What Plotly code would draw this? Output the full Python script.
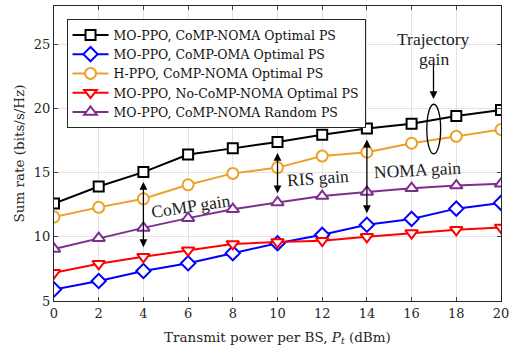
import plotly.graph_objects as go

power_dbm = [0, 2, 4, 6, 8, 10, 12, 14, 16, 18, 20]

mo_ppo_comp_noma_opt = [12.6, 13.93, 15.05, 16.42, 16.9, 17.4, 17.97, 18.45, 18.82, 19.42, 19.9]
mo_ppo_comp_oma_opt = [5.9, 6.56, 7.34, 7.94, 8.73, 9.5, 10.16, 10.94, 11.4, 12.2, 12.65]
h_ppo_comp_noma_opt = [11.54, 12.3, 12.97, 14.06, 14.95, 15.4, 16.3, 16.6, 17.3, 17.84, 18.37]
mo_ppo_nocomp_noma_opt = [7.2, 7.9, 8.45, 8.95, 9.45, 9.6, 9.7, 10.0, 10.3, 10.55, 10.73]
mo_ppo_comp_noma_rand = [9.06, 9.9, 10.7, 11.46, 12.16, 12.68, 13.18, 13.5, 13.8, 14.0, 14.14]

series_names = [
    "MO-PPO, CoMP-NOMA Optimal PS",
    "MO-PPO, CoMP-OMA Optimal PS",
    "H-PPO, CoMP-NOMA Optimal PS",
    "MO-PPO, No-CoMP-NOMA Optimal PS",
    "MO-PPO, CoMP-NOMA Random PS",
]
series_values = [mo_ppo_comp_noma_opt, mo_ppo_comp_oma_opt, h_ppo_comp_noma_opt,
                 mo_ppo_nocomp_noma_opt, mo_ppo_comp_noma_rand]
colors = ["#000000", "#0000FF", "#EDA02A", "#FF0000", "#7E2F8E"]
symbols = ["square", "diamond", "circle", "triangle-down", "triangle-up"]
sizes = [10, 11, 11, 11, 11]

FONT = "DejaVu Serif"
AFONT = "Liberation Serif"

fig = go.Figure()
for name, vals, c, s, sz in zip(series_names, series_values, colors, symbols, sizes):
    fig.add_trace(go.Scatter(
        x=power_dbm, y=vals, name=name, mode="lines+markers",
        line=dict(color=c, width=2),
        marker=dict(symbol=s, size=sz, color="white",
                    line=dict(color=c, width=2)),
    ))

annotations = []
def arrow(x, y0, y1, both=True):
    annotations.append(dict(
        x=x, y=y1, ax=x, ay=y0, xref="x", yref="y", axref="x", ayref="y",
        showarrow=True, arrowhead=2, arrowsize=1.2, arrowwidth=1.3, arrowcolor="black",
        arrowside="end+start" if both else "end", text="",
        startarrowhead=2, startarrowsize=1.2,
    ))

arrow(4, 14.4, 9.2)
arrow(10, 16.66, 13.4)
arrow(14, 17.7, 11.85)
arrow(16.98, 23.75, 20.75, both=False)

def label(x, y, t, ang=0, size=17.5):
    annotations.append(dict(x=x, y=y, xref="x", yref="y", text=t, showarrow=False,
                            textangle=ang, font=dict(family=AFONT, size=size, color="#222")))

label(6.15, 12.4, "CoMP gain", -8.5)
label(11.8, 14.6, "RIS gain", -4)
label(16.25, 15.2, "NOMA gain", -3)
label(17.0, 25.4, "Trajectory", 0)
label(17.0, 23.85, "gain", 0)

fig.add_shape(type="circle", xref="x", yref="y", x0=16.68, x1=17.3, y0=16.47, y1=20.34,
              line=dict(color="black", width=1.3))

fig.update_layout(
    width=513, height=347,
    margin=dict(l=54, r=4, t=6, b=46),
    paper_bgcolor="white", plot_bgcolor="white",
    font=dict(family=FONT, size=13, color="#262626"),
    annotations=annotations,
    showlegend=True,
    legend=dict(x=0.028, y=0.955, xanchor="left", yanchor="top",
                bgcolor="white", bordercolor="#262626", borderwidth=1,
                font=dict(family=FONT, size=12.5, color="#111"),
                tracegroupgap=0, itemwidth=36),
    xaxis=dict(range=[0, 20], tickvals=power_dbm, ticks="inside", ticklen=4,
               ticklabeloverflow="allow",
               showgrid=True, gridcolor="#E3E3E3", gridwidth=1,
               showline=True, linecolor="#262626", linewidth=1, mirror="ticks",
               zeroline=False, tickfont=dict(size=13),
               title=dict(text="Transmit power per BS, <i>P</i><sub><i>t</i></sub> (dBm)",
                          standoff=12, font=dict(size=13.5))),
    yaxis=dict(range=[5, 28], tickvals=[5, 10, 15, 20, 25], ticks="inside", ticklen=4,
               showgrid=True, gridcolor="#E3E3E3", gridwidth=1,
               showline=True, linecolor="#262626", linewidth=1, mirror="ticks",
               zeroline=False, tickfont=dict(size=13),
               title=dict(text="Sum rate (bits/s/Hz)", standoff=6, font=dict(size=13.5))),
)

fig.write_html("out.html")
